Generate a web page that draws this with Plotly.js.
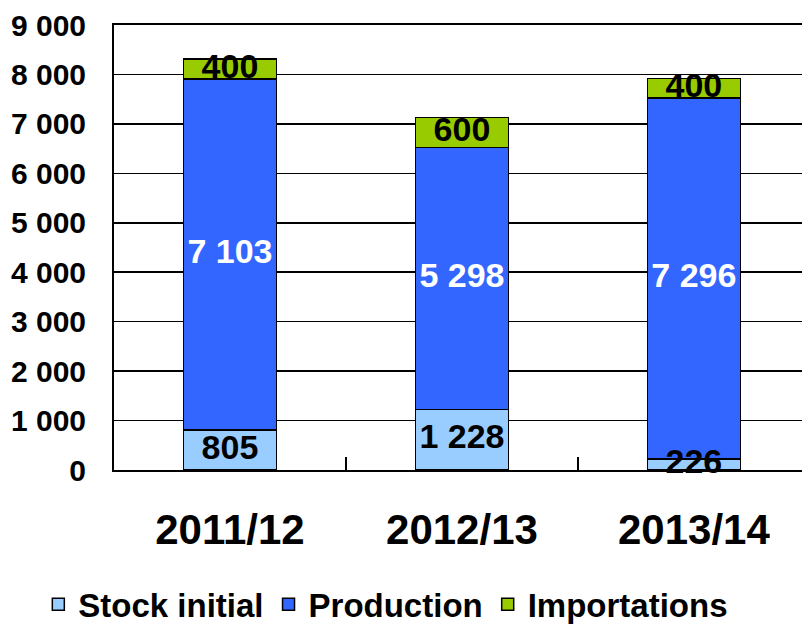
<!DOCTYPE html>
<html>
<head>
<meta charset="utf-8">
<script src="https://cdn.plot.ly/plotly-3.0.1.min.js"></script>
<style>html,body{margin:0;padding:0;background:#fff;}#chart{width:802px;height:626px;}</style>
</head>
<body>
<div id="chart"></div>
<script>
const categories = ['2011/12', '2012/13', '2013/14'];
const stockInitial = [805, 1228, 226];
const production = [7103, 5298, 7296];
const importations = [400, 600, 400];
const seriesNames = ['Stock initial', 'Production', 'Importations'];
const yTicks = [0, 1000, 2000, 3000, 4000, 5000, 6000, 7000, 8000, 9000];

const FONT = 'Liberation Sans, Arial, sans-serif';
const colors = ['#99CCFF', '#3366FF', '#99CC00'];
const labelColors = ['#000000', '#FFFFFF', '#000000'];
const seriesVals = [stockInitial, production, importations];

const traces = [];
seriesVals.forEach((vals, k) => {
  traces.push({
    type: 'bar', name: seriesNames[k], x: categories, y: vals,
    marker: {color: colors[k], line: {color: '#000', width: 1.5}},
    width: 0.4, hoverinfo: 'skip'
  });
});
// label traces on top
seriesVals.forEach((vals, k) => {
  const mids = vals.map((v, i) => {
    let base = 0;
    for (let j = 0; j < k; j++) base += seriesVals[j][i];
    return base + v / 2;
  });
  traces.push({
    type: 'scatter', mode: 'text', x: categories, y: mids,
    text: vals.map(v => v), texttemplate: '%{text:,d}',
    textposition: 'middle center', cliponaxis: false, showlegend: false,
    textfont: {family: FONT, size: 34, color: labelColors[k], weight: 'bold'},
    hoverinfo: 'skip'
  });
});

const layout = {
  width: 802, height: 626,
  margin: {l: 114, r: 0, t: 25, b: 156, autoexpand: false},
  barmode: 'stack',
  separators: ', ',
  paper_bgcolor: '#fff', plot_bgcolor: '#fff',
  font: {family: FONT, color: '#000', weight: 'bold'},
  showlegend: true,
  legend: {
    orientation: 'h', xref: 'paper', x: -0.11, xanchor: 'left',
    y: -0.302, yanchor: 'middle',
    font: {family: FONT, size: 33, color: '#000', weight: 'bold'},
    itemclick: false, traceorder: 'normal'
  },
  xaxis: {
    type: 'category', range: [-0.5, 2.466], automargin: false,
    showline: true, linecolor: '#000', linewidth: 2, mirror: true,
    ticks: 'inside', tickson: 'boundaries', ticklen: 13, tickwidth: 1.5, tickcolor: '#000',
    tickangle: 0,
    tickfont: {family: FONT, size: 42, color: '#000', weight: 'bold'},
    ticklabelstandoff: 22, showgrid: false, zeroline: false
  },
  yaxis: {
    range: [0, 9000], tickvals: yTicks, tickformat: ',d', automargin: false,
    showline: true, linecolor: '#000', linewidth: 2,
    showgrid: true, gridcolor: '#000', gridwidth: 1.5,
    zeroline: false, ticks: '',
    tickfont: {family: FONT, size: 30, color: '#000', weight: 'bold'},
    ticklabelstandoff: 20
  }
};

Plotly.newPlot('chart', traces, layout, {displayModeBar: false, staticPlot: true});
</script>
</body>
</html>
